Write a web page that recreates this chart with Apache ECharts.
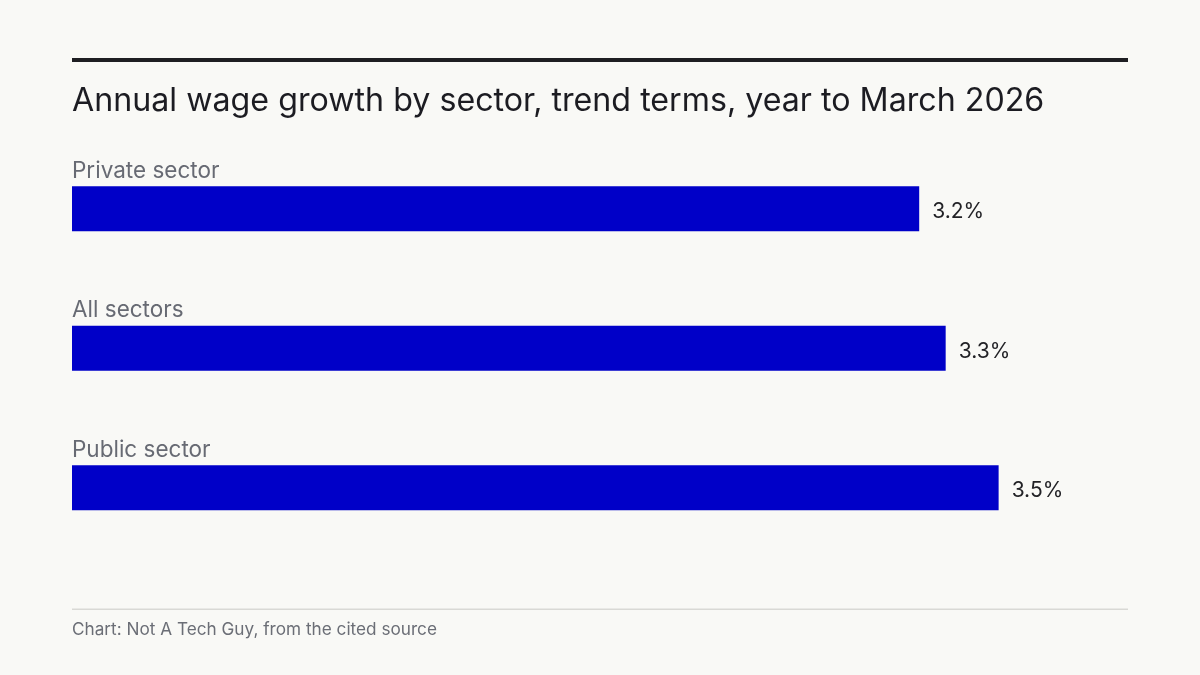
<!DOCTYPE html>
<html><head><meta charset="utf-8">
<script src="https://cdn.jsdelivr.net/npm/echarts@6/dist/echarts.min.js"></script>
<style>html,body{margin:0;padding:0;background:#f9f9f6;}#c{width:1200px;height:675px;}</style>
</head><body><div id="c"></div>
<script>
const categories = ['Private sector', 'All sectors', 'Public sector'];
const values = [3.2, 3.3, 3.5];
const titleText = 'Annual wage growth by sector, trend terms, year to March 2026';
const footerText = 'Chart: Not A Tech Guy, from the cited source';

const FONT = 'Inter, "Noto Sans", sans-serif';
const chart = echarts.init(document.getElementById('c'), null, {renderer: 'canvas'});
chart.setOption({
  backgroundColor: '#f9f9f6',
  animation: false,
  grid: {left: 72, right: 69, top: 139, height: 418.5},
  xAxis: {type: 'value', min: 0, max: 4, show: false},
  yAxis: {type: 'category', data: categories, inverse: true, show: false},
  series: [
    {
      type: 'bar', data: values, barWidth: 45,
      itemStyle: {color: '#0000c8'},
      label: {show: true, position: 'right', distance: 13, offset: [0, 3], formatter: p => p.value.toFixed(1) + '%',
        color: '#222226', fontFamily: FONT, fontSize: 21}
    },
    {
      type: 'bar', data: values, barWidth: 45, barGap: '-100%', silent: true,
      itemStyle: {color: 'rgba(0,0,0,0)'},
      label: {show: true, position: [0, -4], align: 'left', verticalAlign: 'bottom',
        formatter: p => p.name, color: '#676a73', fontFamily: FONT, fontSize: 22.5}
    }
  ],
  graphic: [
    {type: 'rect', shape: {x: 72, y: 58, width: 1056, height: 4}, style: {fill: '#1e1e22'}},
    {type: 'text', left: 72, top: 85, style: {text: titleText, fill: '#1c1c22', font: '32.2px ' + FONT}},
    {type: 'rect', shape: {x: 72, y: 608.5, width: 1056, height: 1.5}, style: {fill: '#d9d9d5'}},
    {type: 'text', left: 72, top: 621, style: {text: footerText, fill: '#6b6e76', font: '17.2px ' + FONT}}
  ]
});
</script></body></html>
